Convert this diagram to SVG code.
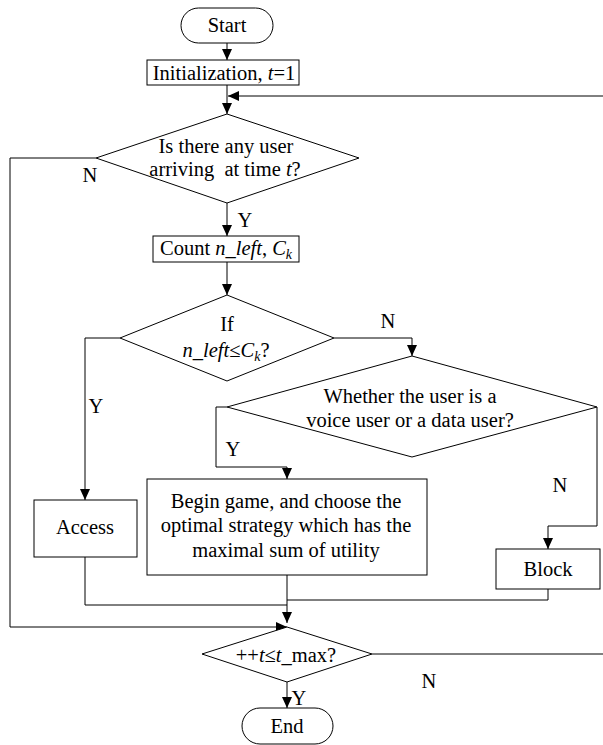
<svg xmlns="http://www.w3.org/2000/svg" width="603" height="745" viewBox="0 0 603 745">
<style>
  .shape { fill: #fff; stroke: #000; stroke-width: 1; }
  .conn { fill: none; stroke: #000; stroke-width: 1; }
  text { font-family: "Liberation Serif", "Times New Roman", serif; font-size: 20.5px; fill: #000; text-anchor: middle; }
  .it { font-style: italic; }
  .sub { font-size: 14px; font-style: italic; }
</style>
<defs>
  <marker id="arr" markerUnits="userSpaceOnUse" markerWidth="11" markerHeight="10" refX="11" refY="5" orient="auto">
    <path d="M0,0 L11,5 L0,10 z" fill="#000"/>
  </marker>
</defs>
<rect width="603" height="745" fill="#fff"/>

<g id="connectors">
  <path class="conn" d="M227,43 V60" marker-end="url(#arr)"/>
  <path class="conn" d="M227,85 V114" marker-end="url(#arr)"/>
  <path class="conn" d="M603,96 H228" marker-end="url(#arr)"/>
  <path class="conn" d="M96,158 H10 V627 H287" marker-end="url(#arr)"/>
  <path class="conn" d="M227,203 V236" marker-end="url(#arr)"/>
  <path class="conn" d="M227,262 V295" marker-end="url(#arr)"/>
  <path class="conn" d="M120,338 H85 V500" marker-end="url(#arr)"/>
  <path class="conn" d="M334,338 H412 V356" marker-end="url(#arr)"/>
  <path class="conn" d="M227,407 H216 V467 H287 V479" marker-end="url(#arr)"/>
  <path class="conn" d="M597,407 V526 H548 V549" marker-end="url(#arr)"/>
  <path class="conn" d="M85,557 V605 H287"/>
  <path class="conn" d="M548,589 V600 H287"/>
  <path class="conn" d="M287,575 V623" marker-end="url(#arr)"/>
  <path class="conn" d="M287,682 V708" marker-end="url(#arr)"/>
  <path class="conn" d="M372,654 H603"/>
  <text x="90" y="182">N</text>
  <text x="245" y="227">Y</text>
  <text x="388" y="328">N</text>
  <text x="96" y="413">Y</text>
  <text x="233" y="456">Y</text>
  <text x="560" y="492">N</text>
  <text x="429" y="688">N</text>
  <text x="299" y="705">Y</text>
</g>

<g id="start">
  <rect class="shape" x="181" y="8" width="92" height="35" rx="17.5" ry="17.5"/>
  <text x="227" y="32">Start</text>
</g>

<g id="init">
  <rect class="shape" x="147" y="60" width="152" height="25"/>
  <text x="224" y="80">Initialization, <tspan class="it">t</tspan>=1</text>
</g>

<g id="decision-arrival">
  <polygon class="shape" points="227,114 359,158 227,203 96,158"/>
  <text x="226" y="153">Is there any user</text>
  <text x="225" y="176" xml:space="preserve">arriving  at time <tspan class="it">t</tspan>?</text>
</g>

<g id="count">
  <rect class="shape" x="153" y="236" width="146" height="26"/>
  <text x="226" y="255">Count <tspan class="it">n_left</tspan>, <tspan class="it">C</tspan><tspan class="sub" dy="4">k</tspan></text>
</g>

<g id="decision-capacity">
  <polygon class="shape" points="227,295 334,338 227,381 120,338"/>
  <text x="227" y="331">If</text>
  <text x="226" y="357"><tspan class="it">n_left</tspan>≤<tspan class="it">C</tspan><tspan class="sub" dy="4">k</tspan><tspan dy="-4">?</tspan></text>
</g>

<g id="decision-type">
  <polygon class="shape" points="412,356 597,407 412,457 227,407"/>
  <text x="410" y="403">Whether the user is a</text>
  <text x="410" y="427">voice user or a data user?</text>
</g>

<g id="access">
  <rect class="shape" x="34" y="500" width="103" height="57"/>
  <text x="85" y="534">Access</text>
</g>

<g id="game">
  <rect class="shape" x="147" y="479" width="280" height="96"/>
  <text x="286" y="508">Begin game, and choose the</text>
  <text x="286" y="532">optimal strategy which has the</text>
  <text x="286" y="557">maximal sum of utility</text>
</g>

<g id="block">
  <rect class="shape" x="496" y="549" width="104" height="40"/>
  <text x="548" y="576">Block</text>
</g>

<g id="decision-time">
  <polygon class="shape" points="287,627 372,654 287,682 202,654"/>
  <text x="286" y="662">++<tspan class="it">t</tspan>≤<tspan class="it">t</tspan>_max?</text>
</g>

<g id="end">
  <rect class="shape" x="242" y="708" width="91" height="36" rx="18" ry="18"/>
  <text x="287" y="733">End</text>
</g>
</svg>
